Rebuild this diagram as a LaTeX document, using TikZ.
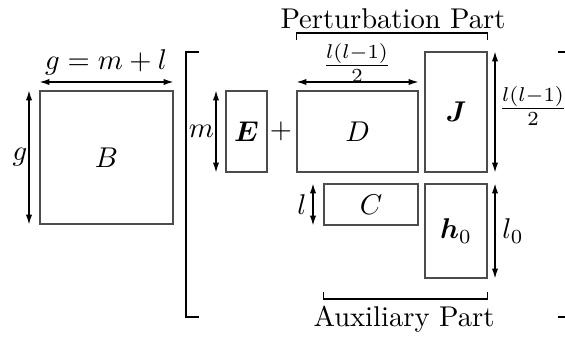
\documentclass[tikz,border=0pt]{standalone}
\usepackage{bm}
\usetikzlibrary{arrows.meta,fit,calc}
\begin{document}
\begin{tikzpicture}[x=0.35pt,y=-0.35pt,
 box/.style={draw=black!70, line width=0.45pt, inner sep=0pt},
 dimarrow/.style={{Latex[length=3.5pt,width=2.2pt]}-{Latex[length=3.5pt,width=2.2pt]}, line width=0.5pt},
 brk/.style={line width=0.45pt},
 lbl/.style={inner sep=0pt}]
\clip (0,0) rectangle (565,336);
% boxes
\node[box, fit={(40,91) (173,224)}] (B) {};
\node[box, fit={(226,91) (267,172)}] (E) {};
\node[box, fit={(297,91) (418,172)}] (D) {};
\node[box, fit={(425,52) (487,172)}] (J) {};
\node[box, fit={(324,184) (418,225)}] (C) {};
\node[box, fit={(425,184) (487,278)}] (H) {};
% box texts
\node[lbl] (Bt) at (B.center) {$B$};
\node[lbl] (Et) at (E.center) {$\bm{E}$};
\node[lbl] (Dt) at (D.center) {$D$};
\node[lbl] (Jt) at (J.center) {$\bm{J}$};
\node[lbl] (Ct) at (C.center) {$C$};
\node[lbl] (Ht) at (H.center) {$\bm{h}_0$};
\node[lbl] (plus) at (281,131) {$+$};
% dimension lines
\coordinate (gx) at (29,0);
\coordinate (gy) at (0,82);
\coordinate (mx) at (216,0);
\coordinate (dy) at (0,82);
\coordinate (jx) at (495,0);
\coordinate (lx) at (313,0);
\draw[dimarrow] (B.north west -| gx) -- (B.south west -| gx);
\draw[dimarrow] (B.north west |- gy) -- (B.north east |- gy);
\draw[dimarrow] (E.north west -| mx) -- (E.south west -| mx);
\draw[dimarrow] (D.north west |- dy) -- (D.north east |- dy);
\draw[dimarrow] (J.north east -| jx) -- (J.south east -| jx);
\draw[dimarrow] (C.north west -| lx) -- (C.south west -| lx);
\draw[dimarrow] (H.north east -| jx) -- (H.south east -| jx);
% dimension labels
\node[lbl] (gml) at (106,62.5) {$g=m+l$};
\node[lbl] (gl) at (20,157) {$g$};
\node[lbl] (ml) at (201.5,131) {$m$};
\node[lbl] (fd) at (357,63) {$\frac{l(l-1)}{2}$};
\node[lbl] (fj) at (533,106) {$\frac{l(l-1)}{2}$};
\node[lbl] (ll) at (302,205) {$l$};
\node[lbl] (l0) at (513,231) {$l_0$};
% part brackets
\coordinate (ptop) at (0,33);
\coordinate (ptick) at (0,40);
\coordinate (abot) at (0,299);
\coordinate (atick) at (0,292);
\draw[brk] (D.west |- ptick) -- (D.west |- ptop) -- (J.east |- ptop) -- (J.east |- ptick);
\draw[brk] (C.west |- atick) -- (C.west |- abot) -- (H.east |- abot) -- (H.east |- atick);
\node[lbl] (pp) at (393,19) {Perturbation Part};
\node[lbl] (ap) at (404,319) {Auxiliary Part};
% big brackets
\coordinate (bl1) at (199,52);
\coordinate (bl2) at (186,52);
\coordinate (bl3) at (186,317);
\coordinate (bl4) at (199,317);
\draw[brk] (bl1) -- (bl2) -- (bl3) -- (bl4);
\coordinate (br1) at (558,52);
\coordinate (br2) at (572,52);
\coordinate (br3) at (572,317);
\coordinate (br4) at (558,317);
\draw[brk] (br1) -- (br2) -- (br3) -- (br4);
\end{tikzpicture}
\end{document}
